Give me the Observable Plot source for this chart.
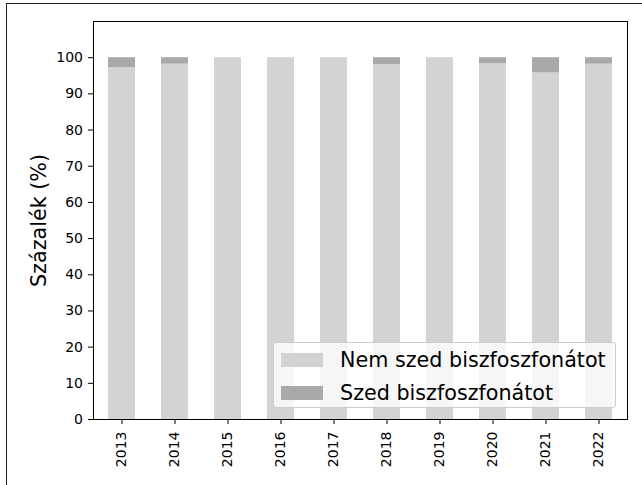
<!DOCTYPE html>
<html>
<head>
<meta charset="utf-8">
<script src="https://cdn.jsdelivr.net/npm/d3@7"></script>
<script src="https://cdn.jsdelivr.net/npm/@observablehq/plot@0.6"></script>
<style>
  html, body { margin: 0; padding: 0; background: #fff; }
  #wrap { position: relative; width: 642px; height: 485px; overflow: hidden; font-family: "DejaVu Sans", sans-serif; }
  #outer { position: absolute; left: 6px; top: 3px; width: 800px; height: 800px; border-left: 1px solid #222; border-top: 1px solid #222; }
  #chart { position: absolute; left: 0; top: 0; }
  #legend { position: absolute; left: 273px; top: 342px; width: 343px; height: 66px; box-sizing: border-box;
            background: rgba(255,255,255,0.8); border: 1px solid #cccccc; border-radius: 3px; }
  .item { position: absolute; left: 7px; height: 20px; display: flex; align-items: center; }
  .sw { width: 42px; height: 14px; margin-right: 17px; }
  .lbl { font-size: 20.7px; color: #000; white-space: nowrap; line-height: 20px; }
</style>
</head>
<body>
<div id="wrap">
  <div id="outer"></div>
  <div id="chart"></div>
  <div id="legend"></div>
</div>
<script>
const years = ["2013","2014","2015","2016","2017","2018","2019","2020","2021","2022"];
const nemSzed = [97.2, 98.2, 100, 100, 100, 98.1, 100, 98.3, 95.8, 98.2];
const szed    = [2.8, 1.8, 0, 0, 0, 1.9, 0, 1.7, 4.2, 1.8];
const seriesNames = ["Nem szed biszfoszfonátot", "Szed biszfoszfonátot"];
const seriesColors = ["#d3d3d3", "#a9a9a9"];
const yTicks = [0, 10, 20, 30, 40, 50, 60, 70, 80, 90, 100];
const yLabel = "Százalék (%)";

const data = [];
years.forEach((y, i) => {
  data.push({year: y, series: seriesNames[0], value: nemSzed[i]});
  data.push({year: y, series: seriesNames[1], value: szed[i]});
});

const chart = Plot.plot({
  width: 642,
  height: 485,
  marginLeft: 93,
  marginRight: 15,
  marginTop: 21,
  marginBottom: 66,
  style: {fontFamily: "DejaVu Sans, sans-serif", fontSize: "14px", color: "#000", background: "transparent"},
  x: {domain: years, paddingInner: 0.5, paddingOuter: 0.25},
  y: {domain: [0, 110]},
  color: {domain: seriesNames, range: seriesColors},
  marks: [
    Plot.barY(data, Plot.stackY({order: seriesNames}, {x: "year", y: "value", fill: "series"})),
    Plot.axisX({tickRotate: -90, tickSize: 5, tickPadding: 7, fontSize: 14, label: null, stroke: "#000"}),
    Plot.axisY({ticks: yTicks, tickSize: 5, tickPadding: 5.5, fontSize: 14, label: null, stroke: "#000"}),
    Plot.axisY({ticks: [], label: yLabel, labelAnchor: "center", labelArrow: "none", labelOffset: 62, fontSize: 20.7}),
    Plot.frame({stroke: "#000", strokeWidth: 1})
  ]
});
document.getElementById("chart").appendChild(chart);

const legend = document.getElementById("legend");
seriesNames.forEach((name, i) => {
  const it = document.createElement("div");
  it.className = "item";
  it.style.top = (7 + i * 33) + "px";
  const sw = document.createElement("div");
  sw.className = "sw";
  sw.style.background = seriesColors[i];
  const lb = document.createElement("span");
  lb.className = "lbl";
  lb.textContent = name;
  it.appendChild(sw);
  it.appendChild(lb);
  legend.appendChild(it);
});
</script>
</body>
</html>
